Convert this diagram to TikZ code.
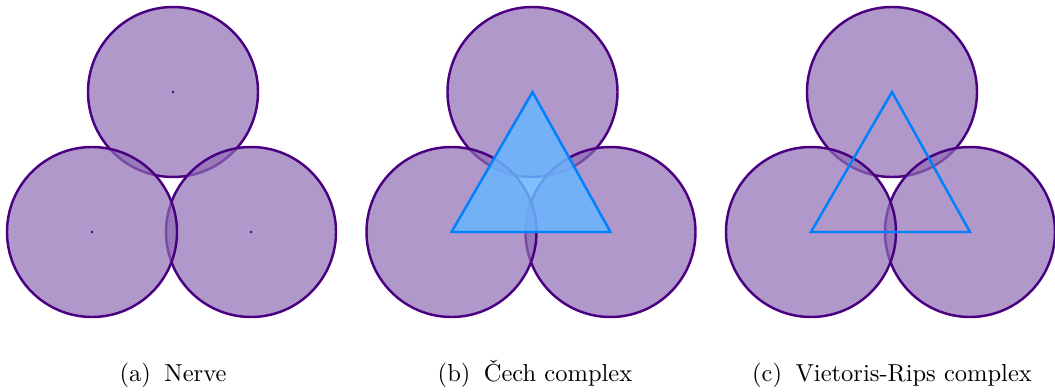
\documentclass[tikz,border=0pt]{standalone}
\usepackage{fontspec}
\definecolor{ringedge}{RGB}{75,0,130}
\definecolor{ringfill}{RGB}{142,108,179}
\definecolor{triedge}{RGB}{0,128,255}
\definecolor{trifill}{RGB}{105,182,255}
\begin{document}
\begin{tikzpicture}[x=0.408pt,y=-0.408pt,
  ball/.style={fill=ringfill,fill opacity=0.7,draw=ringedge,draw opacity=1,line width=1pt},
  centredot/.style={fill=ringedge},
  simplex/.style={draw=triedge,line width=1pt,line join=miter,fill=trifill,fill opacity=0.85},
  edgesonly/.style={draw=triedge,line width=1pt,line join=miter},
  caplabel/.style={anchor=base,inner sep=0pt,font=\fontsize{10}{12}\selectfont}]
\useasboundingbox (0,0) rectangle (1055,392);
% panel a
\coordinate (aT) at (173,92);
\coordinate (aL) at (92,232);
\coordinate (aR) at (251,232);
% panel b
\coordinate (bT) at (532.5,92);
\coordinate (bL) at (451.5,232);
\coordinate (bR) at (610.5,232);
% panel c
\coordinate (cT) at (892,92);
\coordinate (cL) at (811,232);
\coordinate (cR) at (970,232);
\foreach \p in {a,b,c}{
  \path[ball] (\p T) circle[radius=85];
  \path[ball] (\p R) circle[radius=85];
  \path[ball] (\p L) circle[radius=85];
}
\foreach \q in {aT,aL,aR}{\fill[centredot] (\q) circle[radius=1.3];}
\path[simplex] (bT) -- (bR) -- (bL) -- cycle;
\path[edgesonly] (cT) -- (cR) -- (cL) -- cycle;
\node[caplabel] (capa) at (173,381) {(a)\hspace{0.55em}Nerve};
\node[caplabel] (capb) at (535,381) {(b)\hspace{0.55em}Čech complex};
\node[caplabel] (capc) at (892,381) {(c)\hspace{0.55em}Vietoris-Rips complex};
\end{tikzpicture}
\end{document}
